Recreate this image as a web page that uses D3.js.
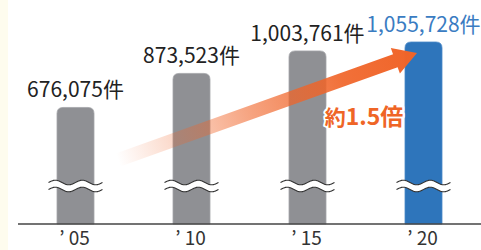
<!DOCTYPE html>
<html><head><meta charset="utf-8">
<script src="https://cdn.jsdelivr.net/npm/d3@7"></script>
<style>
html,body{margin:0;padding:0;background:#fff;}
svg{display:block;}
</style></head>
<body>
<script>
const categories = ["’05", "’10", "’15", "’20"];
const values = [676075, 873523, 1003761, 1055728];
const valueLabels = ["676,075件", "873,523件", "1,003,761件", "1,055,728件"];
const highlight = [false, false, false, true];
const ratioLabel = ["約", "1.5倍"];

const W = 481, H = 250;
const baseY = 224;
const svg = d3.select("body").append("svg").attr("width", W).attr("height", H);

svg.append("rect").attr("width", W).attr("height", H).attr("fill", "#fff");
svg.append("rect").attr("width", 8).attr("height", H).attr("fill", "#fefcee");

const x = d3.scalePoint().domain(categories).range([75.5, 423.5]);
const y = d3.scaleLinear().domain([0, 1055728]).range([baseY, 42]);
const bw = 37, r = 6;

const defs = svg.append("defs");
const grad = defs.append("linearGradient").attr("id", "ag")
  .attr("gradientUnits", "userSpaceOnUse")
  .attr("x1", 118).attr("y1", 160).attr("x2", 417).attr("y2", 53);
grad.append("stop").attr("offset", 0).attr("stop-color", "#f06428").attr("stop-opacity", 0);
grad.append("stop").attr("offset", 0.45).attr("stop-color", "#f06428").attr("stop-opacity", 0.6);
grad.append("stop").attr("offset", 0.75).attr("stop-color", "#f06428").attr("stop-opacity", 0.92);
grad.append("stop").attr("offset", 1).attr("stop-color", "#f06428").attr("stop-opacity", 1);

function barPath(cx, top) {
  const x0 = cx - bw/2, x1 = cx + bw/2;
  return `M${x0},${baseY} L${x0},${top+r} Q${x0},${top} ${x0+r},${top} L${x1-r},${top} Q${x1},${top} ${x1},${top+r} L${x1},${baseY} Z`;
}

const g = svg.append("g");
g.selectAll("path.bar").data(values).join("path")
  .attr("class", "bar")
  .attr("d", (d, i) => barPath(x(categories[i]), y(d)))
  .attr("fill", (d, i) => highlight[i] ? "#2e75bb" : "#8f9094")
  .attr("stroke", (d, i) => highlight[i] ? "#4a88c6" : "#a3a4a8")
  .attr("stroke-width", 0.8);

// break marks
const bandTop = 182.5, bandBot = 189.5, amp = 2.3, lam = 27;
function wave(cx, yc, dir) {
  const pts = [];
  for (let t = -27; t <= 27; t += 1) pts.push([cx + t, yc - amp * Math.sin((t + 27) / lam * 2 * Math.PI)]);
  return dir ? pts : pts.reverse();
}
const line = d3.line().curve(d3.curveBasis);
categories.forEach(c => {
  const cx = x(c);
  const top = wave(cx, bandTop, true), bot = wave(cx, bandBot, false);
  svg.append("path").attr("d", line(top) + "L" + line(bot).slice(1) + "Z")
    .attr("fill", "#fff").attr("stroke", "none");
  svg.append("path").attr("d", line(top)).attr("fill", "none").attr("stroke", "#333").attr("stroke-width", 1.1);
  svg.append("path").attr("d", line(wave(cx, bandBot, true))).attr("fill", "none").attr("stroke", "#333").attr("stroke-width", 1.1);
});

// axis
svg.append("line").attr("x1", 18).attr("x2", W).attr("y1", baseY).attr("y2", baseY)
  .attr("stroke", "#444").attr("stroke-width", 1.4);

const font = "'Noto Sans CJK JP', 'Noto Sans', sans-serif";

// tick labels
svg.selectAll("text.tick").data(categories).join("text")
  .attr("class", "tick")
  .attr("x", d => x(d) - 1).attr("y", 245)
  .attr("text-anchor", "middle")
  .attr("font-family", font).attr("font-size", 19)
  .attr("fill", "#333")
  .text(d => d.replace("’", "’ "));

// value labels
svg.selectAll("text.val").data(values).join("text")
  .attr("class", "val")
  .attr("x", (d, i) => x(categories[i]))
  .attr("y", d => y(d) - 10)
  .attr("text-anchor", "middle")
  .attr("font-family", font).attr("font-size", 21)
  .attr("fill", (d, i) => highlight[i] ? "#3a7cc2" : "#222")
  .text((d, i) => valueLabels[i]);

// arrow
const tail = [118, 160], tip = [417, 53];
const dx = tip[0] - tail[0], dy = tip[1] - tail[1];
const L = Math.hypot(dx, dy);
const ux = dx / L, uy = dy / L, px = -uy, py = ux;
const hw = 6.8, hh = 13.5, hl = 23;
const bx = tip[0] - ux * hl, by = tip[1] - uy * hl;
const P = (ax, ay, s) => [ax + px * s, ay + py * s];
const arrowPts = [P(tail[0], tail[1], -hw), P(bx, by, -hw), P(bx, by, -hh), tip, P(bx, by, hh), P(bx, by, hw), P(tail[0], tail[1], hw)];
svg.append("path").attr("d", "M" + arrowPts.map(p => p.join(",")).join("L") + "Z")
  .attr("fill", "url(#ag)");

// ratio label
const rt = svg.append("text").attr("x", 364).attr("y", 125)
  .attr("text-anchor", "middle")
  .attr("font-family", font).attr("font-weight", "bold").attr("font-size", 21)
  .attr("fill", "#ef6526").attr("stroke", "#fff").attr("stroke-width", 4)
  .attr("stroke-linejoin", "round").attr("paint-order", "stroke");
rt.append("tspan").text(ratioLabel[0]);
rt.append("tspan").attr("font-size", 23).text(ratioLabel[1]);
</script>
</body></html>
